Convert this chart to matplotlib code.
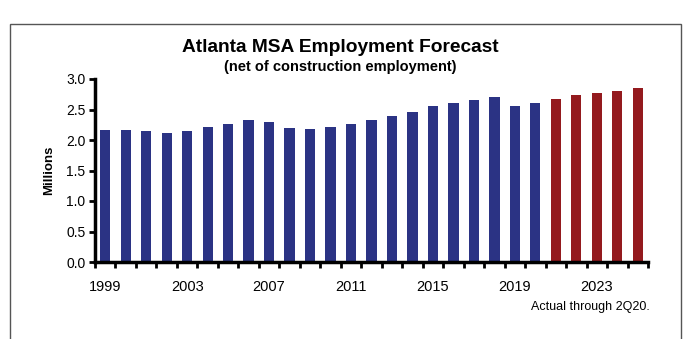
import matplotlib
matplotlib.use("Agg")
from matplotlib import pyplot as plt
from matplotlib.patches import Rectangle
import numpy as np

plt.rcParams['font.family'] = ['Liberation Sans', 'DejaVu Sans']

years = list(range(1999, 2026))
actual = [2.16, 2.17, 2.14, 2.12, 2.15, 2.21, 2.27, 2.32, 2.30, 2.19,
          2.18, 2.22, 2.26, 2.32, 2.40, 2.46, 2.55, 2.60, 2.65, 2.71,
          2.55, 2.60]
forecast = [2.68, 2.73, 2.77, 2.81, 2.86]
year_labels = ['1999', '2003', '2007', '2011', '2015', '2019', '2023']

blue = '#2B3384'
red = '#941A1E'

fig = plt.figure(figsize=(6.88, 3.39), dpi=100)
ax = fig.add_axes([95 / 688, 1 - 262 / 339, 553 / 688, 183 / 339])

x = np.arange(len(years))
n_act = len(actual)
ax.bar(x[:n_act], actual, width=0.5, color=blue)
ax.bar(x[n_act:], forecast, width=0.5, color=red)

ax.set_xlim(-0.5, len(years) - 0.5)
ax.set_ylim(0, 3.0)
ax.set_yticks(np.arange(0, 3.01, 0.5))
ax.set_yticklabels([f'{v:.1f}' for v in np.arange(0, 3.01, 0.5)], fontsize=10)

ax.set_xticks(np.arange(-0.5, len(years), 1.0))
ax.set_xticklabels([])
label_pos = [years.index(int(y)) for y in year_labels]
ax.set_xticks(label_pos, minor=True)
ax.set_xticklabels(year_labels, minor=True, fontsize=10.5)
ax.tick_params(axis='x', which='minor', length=0, pad=13)
ax.tick_params(axis='x', which='major', direction='out', length=4, width=2)
ax.tick_params(axis='y', direction='out', length=4, width=2, pad=3)

for s in ['top', 'right']:
    ax.spines[s].set_visible(False)
for s in ['left', 'bottom']:
    ax.spines[s].set_linewidth(2.5)

ax.set_ylabel('Millions', fontsize=9.5, fontweight='bold', labelpad=8)

fig.text(340 / 688, 1 - 47 / 339, 'Atlanta MSA Employment Forecast',
         ha='center', va='center', fontsize=13.8, fontweight='bold')
fig.text(340 / 688, 1 - 67 / 339, '(net of construction employment)',
         ha='center', va='center', fontsize=10.5, fontweight='bold')
fig.text(650 / 688, 1 - 307 / 339, 'Actual through 2Q20.',
         ha='right', va='center', fontsize=9)

fig.patches.append(Rectangle((10 / 688, -0.1), 671 / 688, 1.065 - 12 / 339,
                             transform=fig.transFigure, fill=False,
                             edgecolor='#555555', linewidth=1))

fig.savefig('out.png', dpi=100)
